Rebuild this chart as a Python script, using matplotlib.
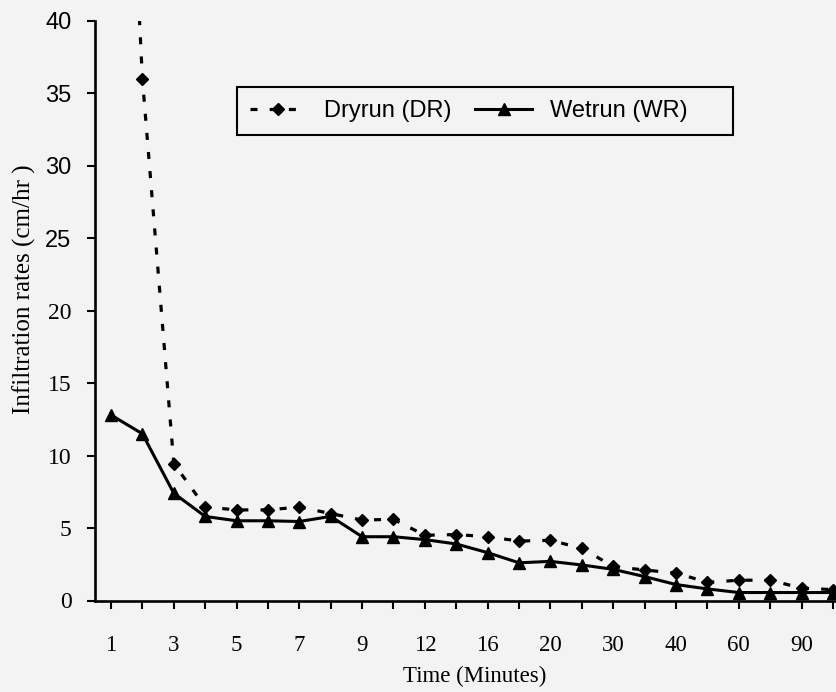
import matplotlib
matplotlib.use("Agg")
import matplotlib.pyplot as plt
from matplotlib.patches import Rectangle
import numpy as np

# ---- data ----
time_minutes = ['1', '2', '3', '4', '5', '6', '7', '8', '9', '10', '12', '14',
                '16', '18', '20', '25', '30', '35', '40', '50', '60', '75', '90', '120']
dry_run = [80.0, 36.0, 9.45, 6.45, 6.25, 6.25, 6.45, 6.0, 5.55, 5.6, 4.5, 4.55,
           4.4, 4.1, 4.15, 3.6, 2.35, 2.1, 1.9, 1.25, 1.4, 1.4, 0.85, 0.75]
wet_run = [12.8, 11.5, 7.4, 5.8, 5.5, 5.5, 5.45, 5.8, 4.4, 4.4, 4.2, 3.9,
           3.3, 2.6, 2.7, 2.45, 2.15, 1.65, 1.1, 0.8, 0.55, 0.55, 0.55, 0.55]
y_ticks = [0, 5, 10, 15, 20, 25, 30, 35, 40]
series_names = ['Dryrun (DR)', 'Wetrun (WR)']

W, H = 837, 692
bg = '#f3f3f3'
fig = plt.figure(figsize=(W / 100, H / 100), dpi=100, facecolor=bg)
ax = fig.add_axes([95 / W, (H - 600.5) / H, 1 - 95 / W, (600.5 - 20.7) / H])
ax.set_facecolor(bg)

ax.plot(time_minutes, dry_run, color='black', lw=2.3, linestyle=(0, (2.2, 3.8)),
        marker='D', markersize=6.5, label=series_names[0], clip_on=True)
ax.plot(time_minutes, wet_run, color='black', lw=2.2, linestyle='-',
        marker='^', markersize=8.5, label=series_names[1], clip_on=True)

n = len(time_minutes)
ax.set_xlim(-0.51, 23.13)
ax.set_ylim(0, 40)
ax.set_xticks(range(n), [t if i % 2 == 0 else '' for i, t in enumerate(time_minutes)])
ax.set_yticks(y_ticks)

for s in ['top', 'right']:
    ax.spines[s].set_visible(False)
ax.spines['left'].set_linewidth(1.9)
ax.spines['bottom'].set_linewidth(1.9)

ax.tick_params(axis='x', direction='out', length=6, width=1.5, pad=19,
               labelsize=16.5)
ax.tick_params(axis='y', direction='out', length=6, width=1.5, pad=11,
               labelsize=17)
for lab in ax.get_xticklabels():
    lab.set_fontfamily('Liberation Serif')
for lab, v in zip(ax.get_yticklabels(), y_ticks):
    lab.set_fontfamily('Liberation Sans' if v >= 25 else 'Liberation Serif')

fig.text(475 / W, 1 - 676 / H, 'Time (Minutes)', ha='center', va='center',
         fontsize=16.5, family='Liberation Serif')
fig.text(24 / W, 1 - 289 / H, 'Infiltration rates (cm/hr )', ha='center',
         va='center', rotation=90, fontsize=18, family='Liberation Serif')

leg = fig.legend(loc='center left', bbox_to_anchor=(250 / W, 1 - 111 / H),
                 ncol=2, frameon=False, borderaxespad=0, borderpad=0,
                 prop={'family': 'Liberation Sans', 'size': 17},
                 handlelength=2.4, handletextpad=0.75, columnspacing=1.0)
fig.add_artist(Rectangle((237 / W, 1 - 135 / H), 496 / W, 48 / H,
                         transform=fig.transFigure, fill=False,
                         edgecolor='black', linewidth=1.5))

fig.savefig('out.png', dpi=100, facecolor=bg)
